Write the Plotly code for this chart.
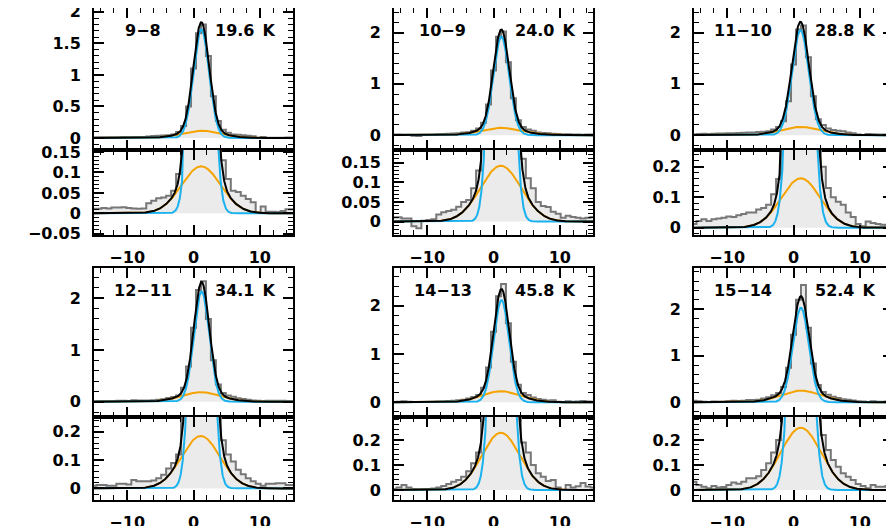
import numpy as np
import plotly.graph_objects as go

# channel velocities (km/s)
velocity = [-15.0, -14.25, -13.5, -12.75, -12.0, -11.25, -10.5, -9.75, -9.0, -8.25,
            -7.5, -6.75, -6.0, -5.25, -4.5, -3.75, -3.0, -2.25, -1.5, -0.75,
            0.0, 0.75, 1.5, 2.25, 3.0, 3.75, 4.5, 5.25, 6.0, 6.75,
            7.5, 8.25, 9.0, 9.75, 10.5, 11.25, 12.0, 12.75, 13.5, 14.25, 15.0]

transitions = ["9\u22128", "10\u22129", "11\u221210", "12\u221211", "14\u221213", "15\u221214"]
temperatures = ["19.6 K", "24.0 K", "28.8 K", "34.1 K", "45.8 K", "52.4 K"]

# observed spectra (K)
spec_9_8 = [0.011, 0.011, 0.013, 0.012, 0.014, 0.014, 0.015, 0.013, 0.012, 0.011,
            0.012, 0.025, 0.031, 0.037, 0.039, 0.043, 0.055, 0.096, 0.19, 0.50,
            1.10, 1.66, 1.80, 1.30, 0.66, 0.27, 0.13, 0.084, 0.055, 0.052,
            0.043, 0.035, 0.027, 0.002, 0.017, 0.004, 0.004, 0.003, 0.006, 0.010, 0.010]
spec_10_9 = [0.011, 0.011, 0.008, 0.008, -0.012, -0.017, 0.002, 0.004, 0.006, 0.018,
             0.024, 0.027, 0.030, 0.038, 0.050, 0.055, 0.085, 0.13, 0.24, 0.60,
             1.26, 1.92, 2.02, 1.42, 0.72, 0.29, 0.16, 0.11, 0.085, 0.05,
             0.04, 0.037, 0.025, 0.02, 0.01, 0.015, 0.012, 0.01, 0.008, 0.01, 0.012]
spec_11_10 = [0.012, 0.022, 0.028, 0.022, 0.028, 0.030, 0.033, 0.037, 0.035, 0.041,
              0.045, 0.05, 0.05, 0.06, 0.065, 0.075, 0.11, 0.16, 0.27, 0.66,
              1.38, 2.06, 2.14, 1.52, 0.76, 0.31, 0.20, 0.13, 0.10, 0.085,
              0.075, 0.05, 0.035, 0.012, 0.005, 0.02, 0.015, 0.012, 0.01, 0.008, 0.005]
spec_12_11 = [0.009, 0.012, 0.012, 0.009, 0.009, 0.016, 0.016, 0.014, 0.03, 0.025,
              0.025, 0.025, 0.028, 0.036, 0.048, 0.07, 0.09, 0.12, 0.27, 0.68,
              1.43, 2.16, 2.33, 1.60, 0.80, 0.33, 0.17, 0.12, 0.095, 0.066,
              0.05, 0.036, 0.025, 0.016, 0.009, 0.016, 0.016, 0.018, 0.018, 0.012, 0.012]
spec_14_13 = [0.004, 0.01, 0.02, 0.01, 0.004, 0.003, 0.004, 0.004, 0.006, 0.01,
              0.016, 0.024, 0.033, 0.04, 0.053, 0.075, 0.107, 0.15, 0.30, 0.72,
              1.46, 2.20, 2.45, 1.64, 0.84, 0.36, 0.19, 0.15, 0.10, 0.067,
              0.053, 0.036, 0.04, 0.01, 0.0, 0.02, 0.01, 0.015, 0.028, 0.014, 0.01]
spec_15_14 = [0.033, 0.02, 0.013, 0.007, 0.016, 0.01, 0.012, 0.02, 0.03, 0.025,
              0.033, 0.047, 0.047, 0.055, 0.08, 0.107, 0.15, 0.2, 0.33, 0.74,
              1.45, 2.20, 2.52, 1.60, 0.83, 0.37, 0.22, 0.16, 0.12, 0.093,
              0.067, 0.053, 0.04, 0.024, 0.016, 0.007, 0.02, 0.013, 0.013, 0.016, 0.016]
spectra = [spec_9_8, spec_10_9, spec_11_10, spec_12_11, spec_14_13, spec_15_14]

# gaussian fit components: narrow (blue) and broad (orange)
narrow_amp = [1.72, 1.92, 2.05, 2.13, 2.12, 2.03]
narrow_vel = [1.18, 1.18, 1.05, 1.22, 1.2, 1.12]
narrow_fwhm = [2.76, 2.79, 2.95, 2.7, 2.72, 2.83]
broad_amp = [0.115, 0.142, 0.162, 0.185, 0.229, 0.249]
broad_vel = [1.15, 1.1, 1.1, 1.1, 1.1, 1.1]
broad_fwhm = [6.9, 7.2, 6.9, 6.8, 6.7, 7.1]

# axis ranges / ticks per panel
top_range = [[-0.19, 2.06], [-0.29, 2.48], [-0.29, 2.48], [-0.29, 2.59], [-0.30, 2.79], [-0.31, 2.89]]
top_dtick = [0.5, 1, 1, 1, 1, 1]
top_minor = [0.1, 0.2, 0.2, 0.2, 0.2, 0.2]
bot_range = [[-0.053, 0.155], [-0.034, 0.182], [-0.024, 0.255], [-0.041, 0.253], [-0.04, 0.293], [-0.04, 0.293]]
bot_dtick = [0.05, 0.05, 0.1, 0.1, 0.1, 0.1]
bot_minor = [0.01, 0.01, 0.02, 0.02, 0.02, 0.02]

# page body adds an 8px margin, so work in page pixels and shift
OFF = 8
W, H = 894 - OFF, 526 - OFF
col_left = [94, 394, 694]
panel_w = 199
row_top = [2, 267.7]
row_mid = [150, 416.7]
row_bot = [235, 500]

FILL = '#ebebeb'
HIST = '#777777'
BLUE = '#1ab2ee'
ORANGE = '#f5a300'
FONT = dict(family='DejaVu Sans', size=16, color='black', weight='bold')


def gauss(v, a, v0, fwhm):
    s = fwhm / 2.3548
    return a * np.exp(-(v - v0) ** 2 / (2 * s * s))


def px_x(x):
    return (x - OFF) / W


def px_y(y):
    return 1 - (y - OFF) / H


vfine = np.linspace(-15.5, 15.5, 1241)
fig = go.Figure()
layout = {}
annotations = []

for p in range(6):
    row, col = divmod(p, 3)
    xdom = [px_x(col_left[col]), min(1, px_x(col_left[col] + panel_w))]
    narrow = gauss(vfine, narrow_amp[p], narrow_vel[p], narrow_fwhm[p])
    broad = gauss(vfine, broad_amp[p], broad_vel[p], broad_fwhm[p])
    total = narrow + broad
    for k, part in enumerate(['top', 'bot']):
        idx = 2 * p + k + 1
        sfx = '' if idx == 1 else str(idx)
        xa, ya = 'x' + sfx, 'y' + sfx
        fig.add_trace(go.Scatter(x=velocity, y=spectra[p], mode='lines', line_shape='hvh',
                                 fill='tozeroy', fillcolor=FILL,
                                 line=dict(color=HIST, width=2), xaxis=xa, yaxis=ya,
                                 showlegend=False))
        fig.add_trace(go.Scatter(x=vfine, y=broad, mode='lines', line=dict(color=ORANGE, width=2),
                                 xaxis=xa, yaxis=ya, showlegend=False))
        fig.add_trace(go.Scatter(x=vfine, y=narrow, mode='lines', line=dict(color=BLUE, width=2),
                                 xaxis=xa, yaxis=ya, showlegend=False))
        fig.add_trace(go.Scatter(x=vfine, y=total, mode='lines', line=dict(color='black', width=2),
                                 xaxis=xa, yaxis=ya, showlegend=False))

        if part == 'top':
            ydom = [px_y(row_mid[row]), min(1, px_y(row_top[row]))]
            yr, dt, mn = top_range[p], top_dtick[p], top_minor[p]
        else:
            ydom = [px_y(row_bot[row]), px_y(row_mid[row])]
            yr, dt, mn = bot_range[p], bot_dtick[p], bot_minor[p]

        common = dict(showline=True, linewidth=2, linecolor='black', mirror='allticks',
                      ticks='inside', ticklen=10, tickwidth=1.6, tickcolor='black',
                      showgrid=False, zeroline=False, automargin=False, tickfont=FONT,
                      ticklabeloverflow='allow')
        layout['xaxis' + sfx] = dict(common, domain=xdom, range=[-15, 15], anchor=ya,
                                     tick0=0, dtick=10, showticklabels=(part == 'bot'),
                                     ticklabelstandoff=7,
                                     minor=dict(ticks='inside', ticklen=5, tickwidth=1.4,
                                                tickcolor='black', dtick=2, tick0=0))
        layout['yaxis' + sfx] = dict(common, domain=ydom, range=yr, anchor=xa,
                                     tick0=0, dtick=dt, ticklabelstandoff=8,
                                     minor=dict(ticks='inside', ticklen=5, tickwidth=1.4,
                                                tickcolor='black', dtick=mn, tick0=0))
        if part == 'top':
            annotations.append(dict(text=transitions[p], xref=xa + ' domain', yref=ya + ' domain',
                                    x=0.246, y=0.845, showarrow=False, font=FONT,
                                    xanchor='center', yanchor='middle'))
            annotations.append(dict(text=temperatures[p].replace(' ', '\u2002'),
                                    xref=xa + ' domain', yref=ya + ' domain',
                                    x=0.76, y=0.845, showarrow=False, font=FONT,
                                    xanchor='center', yanchor='middle'))

fig.update_layout(**layout)
fig.update_layout(width=W, height=H, margin=dict(l=0, r=0, t=0, b=0),
                  plot_bgcolor='white', paper_bgcolor='white',
                  annotations=annotations, showlegend=False)
fig.write_html("out.html")
